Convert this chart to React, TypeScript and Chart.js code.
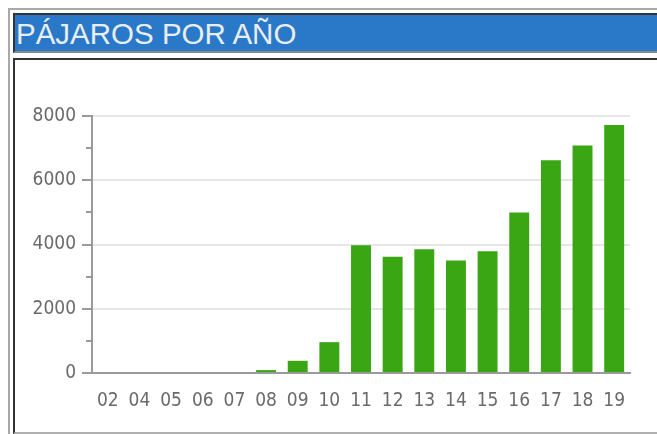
import React, { useEffect, useRef } from "react";
import { Chart, registerables } from "chart.js";

Chart.register(...registerables);

const TITLE = "PÁJAROS POR AÑO";
const years = ["02", "04", "05", "06", "07", "08", "09", "10", "11", "12", "13", "14", "15", "16", "17", "18", "19"];
const birds = [0, 0, 0, 0, 0, 90, 380, 960, 3980, 3620, 3850, 3500, 3790, 5000, 6620, 7080, 7720];
const yMax = 8000;
const yMajorStep = 2000;
const yMinorStep = 1000;

const TICK_FONT = "'DejaVu Sans Condensed', 'DejaVu Sans', sans-serif";
const AXIS_COLOR = "#9a9a9a";
const LABEL_COLOR = "#6a6a6a";
const BAR_COLOR = "#3aa614";

const minorTicks = {
  id: "minorTicks",
  afterDraw(chart: any) {
    const y = chart.scales.y;
    const ctx = chart.ctx;
    ctx.save();
    ctx.strokeStyle = AXIS_COLOR;
    ctx.lineWidth = 2;
    y.ticks.forEach((t: any) => {
      if (t.value % yMajorStep !== 0) {
        const py = Math.round(y.getPixelForValue(t.value));
        ctx.beginPath();
        ctx.moveTo(y.right - 6, py);
        ctx.lineTo(y.right, py);
        ctx.stroke();
      }
    });
    ctx.restore();
  },
};

export default function App() {
  const ref = useRef<HTMLCanvasElement | null>(null);
  useEffect(() => {
    if (!ref.current) return;
    const chart = new Chart(ref.current, {
      type: "bar",
      data: {
        labels: years,
        datasets: [
          {
            data: birds,
            backgroundColor: BAR_COLOR,
            borderWidth: 0,
            barPercentage: 0.63,
            categoryPercentage: 1,
          },
        ],
      },
      options: {
        animation: false,
        responsive: false,
        maintainAspectRatio: false,
        layout: { padding: { top: 56, right: 27, bottom: 0, left: 0 } },
        plugins: { legend: { display: false }, tooltip: { enabled: false } },
        scales: {
          x: {
            grid: { display: true, drawOnChartArea: false, drawTicks: false },
            border: { display: true, color: AXIS_COLOR, width: 2 },
            ticks: {
              color: LABEL_COLOR,
              font: { family: TICK_FONT, size: 19 },
              padding: 17,
              maxRotation: 0,
              autoSkip: false,
            },
            afterFit: (s: any) => {
              s.height = 59;
            },
          },
          y: {
            min: 0,
            max: yMax,
            grid: {
              color: (c: any) =>
                c.tick && c.tick.value % yMajorStep === 0 && c.tick.value !== 0 ? "#e6e6e6" : "rgba(0,0,0,0)",
              lineWidth: 2,
              tickLength: 10,
              tickColor: (c: any) => (c.tick && c.tick.value % yMajorStep === 0 ? AXIS_COLOR : "rgba(0,0,0,0)"),
              tickWidth: 2,
            },
            border: { display: true, color: AXIS_COLOR, width: 2 },
            ticks: {
              stepSize: yMinorStep,
              color: LABEL_COLOR,
              font: { family: TICK_FONT, size: 19 },
              padding: 6,
              callback: (v: any) => (Number(v) % yMajorStep === 0 ? String(v) : ""),
            },
            afterFit: (s: any) => {
              s.width = 77;
            },
          },
        },
      },
      plugins: [minorTicks],
    });
    return () => chart.destroy();
  }, []);

  return (
    <div
      style={{
        position: "fixed",
        left: 0,
        top: 0,
        width: 657,
        height: 434,
        overflow: "hidden",
        background: "#ffffff",
      }}
    >
      <div
        style={{
          position: "absolute",
          left: 8,
          top: 8,
          width: 800,
          height: 600,
          borderTop: "2px solid #a9a9a9",
          borderLeft: "2px solid #a9a9a9",
        }}
      />
      <div
        style={{
          position: "absolute",
          left: 13,
          top: 13,
          width: 800,
          height: 36,
          background: "#2a78c8",
          borderTop: "2px solid #333333",
          borderLeft: "2px solid #333333",
          borderBottom: "2px solid #8a8a8a",
          color: "#e9eef5",
          fontFamily: "'Liberation Sans', Arial, sans-serif",
          fontSize: 29.5,
          lineHeight: "37px",
          paddingLeft: 1,
          whiteSpace: "nowrap",
        }}
      >
        {TITLE}
      </div>
      <div
        style={{
          position: "absolute",
          left: 13,
          top: 58,
          width: 800,
          height: 372,
          borderTop: "2px solid #333333",
          borderLeft: "2px solid #333333",
          borderBottom: "2px solid #b0b0b0",
        }}
      >
        <canvas ref={ref} width={642} height={372} style={{ display: "block", width: 642, height: 372 }} />
      </div>
    </div>
  );
}
